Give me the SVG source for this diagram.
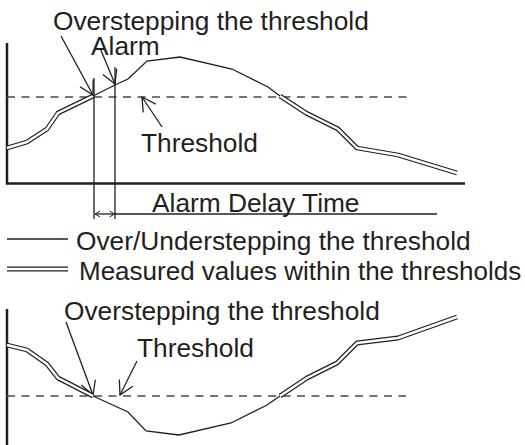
<svg xmlns="http://www.w3.org/2000/svg" width="525" height="445" viewBox="0 0 525 445">
<style>
text { font-family: "Liberation Sans", Arial, sans-serif; font-size: 26.3px; fill: #231f20; }
.ax { stroke: #231f20; stroke-width: 2.5; fill: none; }
.thin { stroke: #231f20; stroke-width: 1.3; fill: none; }
.dash { stroke: #4a4a4a; stroke-width: 1.4; stroke-dasharray: 8 6.5; fill: none; }
.dblo { stroke: #231f20; stroke-width: 4.8; fill: none; stroke-linejoin: round; }
.dbli { stroke: #fff; stroke-width: 2.4; fill: none; stroke-linejoin: round; }
</style>
<defs>
<marker id="arr" markerUnits="userSpaceOnUse" viewBox="-16 -9 17 18" markerWidth="17" markerHeight="18" refX="0" refY="0" orient="auto">
<path d="M-13.5,-7.5 L0,0 L-13.5,7.5" fill="none" stroke="#231f20" stroke-width="1.3"/>
</marker>
<marker id="sm" markerUnits="userSpaceOnUse" viewBox="-7 -4 8 8" markerWidth="8" markerHeight="8" refX="0" refY="0" orient="auto-start-reverse">
<path d="M-5,-3 L0,0 L-5,3" fill="none" stroke="#231f20" stroke-width="1"/>
</marker>
</defs>
<rect width="525" height="445" fill="#fff"/>

<g id="top-graph">
<path class="ax" d="M7,43 V183.5 H465"/>
<path class="dash" d="M7,97 H410"/>
<path class="dblo" d="M7,148 L27,142 L47,129 L58,113 L93,96"/>
<path class="dbli" d="M7,148 L27,142 L47,129 L58,113 L93,96"/>
<path class="thin" d="M93,96 L115,85 L128,79 L147,61 L180,57 L232,69 L268,87 L280,96"/>
<path class="dblo" d="M280,96 L306,113 L338,129 L357,148 L398,155 L457,173"/>
<path class="dbli" d="M280,96 L306,113 L338,129 L357,148 L398,155 L457,173"/>
<path class="thin" d="M94,78 V219 M115,67 V219"/>
</g>

<g id="connectors">
<path class="thin" d="M61,36 L93,95" marker-end="url(#arr)"/>
<path class="thin" d="M100,48 L115,84" marker-end="url(#arr)"/>
<path class="thin" d="M162,127 L142,97" marker-end="url(#arr)"/>
<path class="thin" d="M95,214 H114.5" marker-start="url(#sm)" marker-end="url(#sm)"/>
<path class="thin" d="M115,214 H437"/>
<path class="thin" d="M66,322 L93,395" marker-end="url(#arr)"/>
<path class="thin" d="M137,361 L120,395" marker-end="url(#arr)"/>
</g>

<g id="labels-top">
<text x="53" y="30">Overstepping the threshold</text>
<text x="91" y="55">Alarm</text>
<text x="141" y="152">Threshold</text>
<text x="152" y="212">Alarm Delay Time</text>
</g>

<g id="legend">
<path class="thin" d="M7,239 H68"/>
<text x="76" y="250">Over/Understepping the threshold</text>
<path class="dblo" d="M7,269 H68"/>
<path class="dbli" d="M7,269 H68"/>
<text x="79" y="280" style="font-size:26px">Measured values within the thresholds</text>
</g>

<g id="bottom-graph">
<path class="ax" d="M7,309 V445"/>
<path class="dash" d="M7,396 H406"/>
<path class="dblo" d="M7,345 L27,350 L47,364 L58,378 L93,396"/>
<path class="dbli" d="M7,345 L27,350 L47,364 L58,378 L93,396"/>
<path class="thin" d="M93,396 L128,412 L146,431 L179,435 L231,423 L267,405 L280,396"/>
<path class="dblo" d="M280,396 L307,378 L337,363 L357,343 L398,338 L457,317"/>
<path class="dbli" d="M280,396 L307,378 L337,363 L357,343 L398,338 L457,317"/>
<text x="64" y="320">Overstepping the threshold</text>
<text x="137" y="357">Threshold</text>
</g>
</svg>
